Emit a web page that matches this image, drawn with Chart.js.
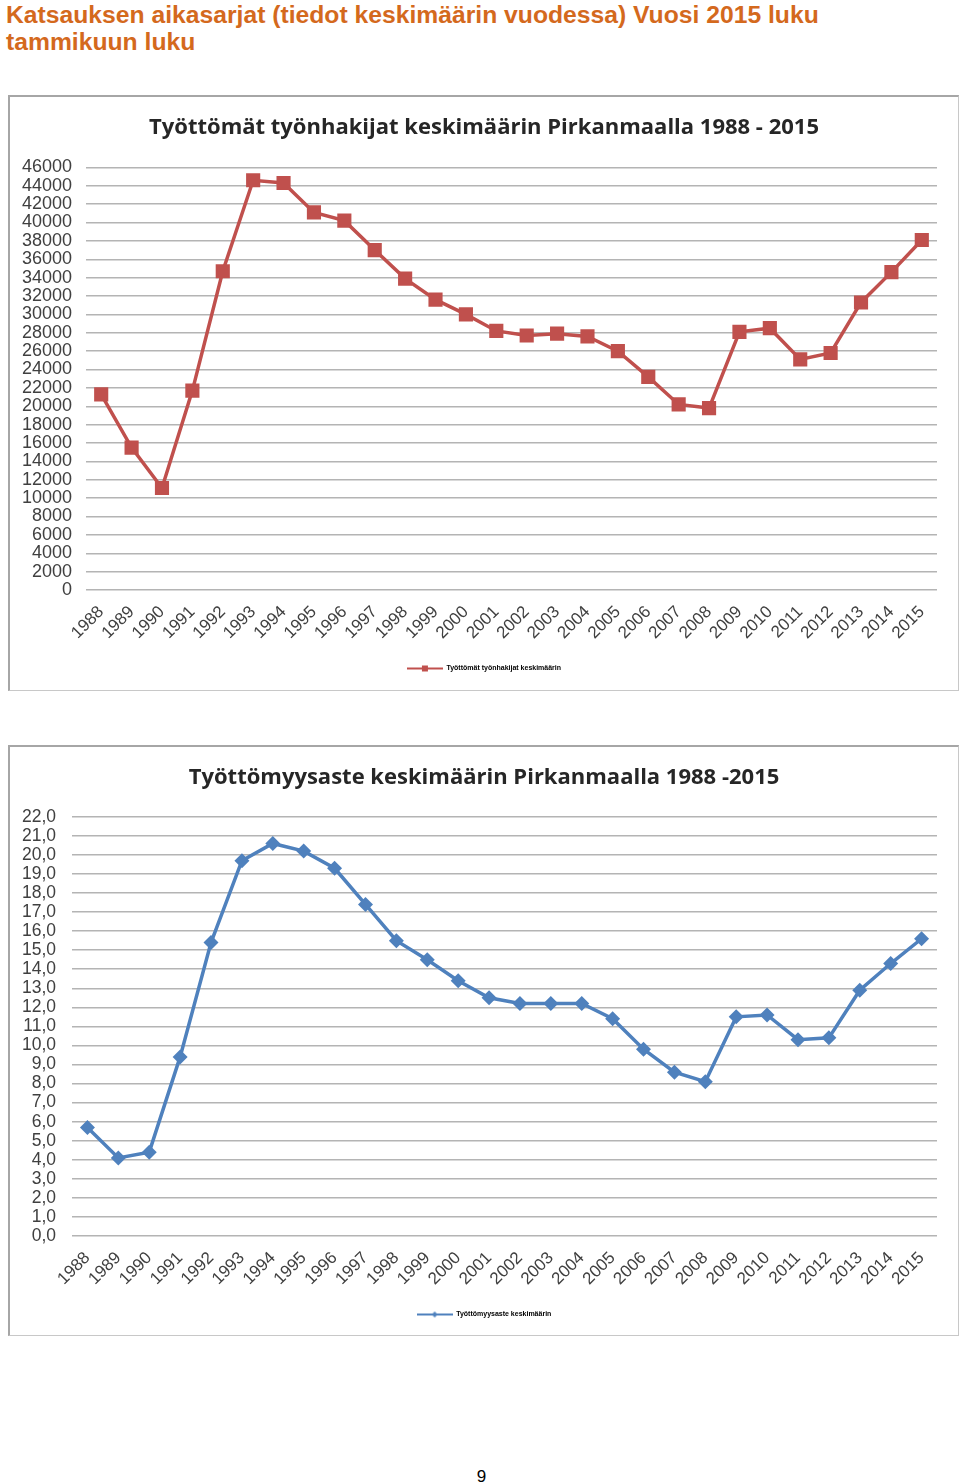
<!DOCTYPE html>
<html>
<head>
<meta charset="utf-8">
<script src="https://cdn.jsdelivr.net/npm/chart.js@4"></script>
<style>
  html, body { margin:0; padding:0; background:#fff; }
  body { width:960px; height:1483px; position:relative; overflow:hidden; font-family:"Liberation Sans", Arial, sans-serif; }
  .heading { position:absolute; left:6px; top:1px; width:940px; color:#D4691D; font-weight:bold; font-size:24.7px; line-height:27px; }
  .box { position:absolute; left:8px; width:948px; border-top:2px solid #a6a6a6; border-left:2px solid #a6a6a6; border-right:1px solid #c8c8c8; border-bottom:1px solid #c8c8c8; background:#fff; }
  .box canvas { display:block; }
  .pagenum { position:absolute; left:0; width:963px; top:1467px; text-align:center; font-size:17px; color:#000; }
</style>
</head>
<body>
<div class="heading">Katsauksen aikasarjat (tiedot keskimäärin vuodessa) Vuosi 2015 luku<br>tammikuun luku</div>
<div class="box" id="box1" style="top:95px;height:593px;"><canvas id="c1"></canvas></div>
<div class="box" id="box2" style="top:745px;height:588px;"><canvas id="c2"></canvas></div>
<div class="pagenum">9</div>
<script>
// ---- Data ----
const years = ["1988","1989","1990","1991","1992","1993","1994","1995","1996","1997","1998","1999","2000","2001","2002","2003","2004","2005","2006","2007","2008","2009","2010","2011","2012","2013","2014","2015"];
const unemployedJobSeekers = [21300,15500,11100,21700,34700,44600,44300,41100,40200,37000,33900,31600,30000,28200,27700,27900,27600,26000,23200,20200,19800,28100,28500,25100,25800,31300,34600,38100];
const unemploymentRate = [5.7,4.1,4.4,9.4,15.4,19.7,20.6,20.2,19.3,17.4,15.5,14.5,13.4,12.5,12.2,12.2,12.2,11.4,9.8,8.6,8.1,11.5,11.6,10.3,10.4,12.9,14.3,15.6];
const title1 = "Työttömät työnhakijat keskimäärin Pirkanmaalla 1988 - 2015";
const title2 = "Työttömyysaste keskimäärin Pirkanmaalla 1988 -2015";
const legend1 = "Työttömät työnhakijat keskimäärin";
const legend2 = "Työttömyysaste keskimäärin";

const RED = "#C0504D", BLUE = "#4F81BD";

function legendIcon(color, style) {
  const c = document.createElement('canvas');
  c.width = 36; c.height = 8;
  const g = c.getContext('2d');
  g.strokeStyle = color; g.lineWidth = 2;
  g.beginPath(); g.moveTo(0,4); g.lineTo(36,4); g.stroke();
  g.fillStyle = color;
  if (style === 'rect') { g.fillRect(15,1,6,6); }
  else { g.beginPath(); g.moveTo(18,1); g.lineTo(21,4); g.lineTo(18,7); g.lineTo(15,4); g.closePath(); g.fill(); }
  return c;
}

function makeChart(id, w, h, cfg) {
  const cv = document.getElementById(id);
  cv.width = w; cv.height = h; cv.style.width = w+'px'; cv.style.height = h+'px';
  return new Chart(cv, {
    type: 'line',
    data: { labels: years, datasets: [{
      label: cfg.legend, data: cfg.data,
      borderColor: cfg.color, backgroundColor: cfg.color, borderWidth: 3.5,
      pointStyle: cfg.pointStyle, pointRadius: cfg.pointRadius, pointHoverRadius: cfg.pointRadius,
      pointBackgroundColor: cfg.color, pointBorderColor: cfg.color, pointBorderWidth: 0,
      tension: 0, yAxisID: 'y'
    }]},
    options: {
      responsive: false, animation: false, devicePixelRatio: 1,
      layout: { padding: { left: 0, right: 0, top: 0, bottom: cfg.padBottom } },
      plugins: {
        tooltip: { enabled: false },
        title: { display: true, text: cfg.title, color: '#262626',
          font: { family: '"Open Sans", sans-serif', size: cfg.titleSize, weight: 'bold' },
          padding: { top: cfg.titleTop, bottom: cfg.titleBottom } },
        legend: { display: true, position: 'bottom',
          labels: { usePointStyle: true, pointStyleWidth: 36, color: '#404040', padding: 6,
            font: { family: '"Liberation Sans", Arial, sans-serif', size: 7, weight: 'bold' },
            generateLabels: () => [{ text: cfg.legend, pointStyle: legendIcon(cfg.color, cfg.pointStyle === 'rect' ? 'rect' : 'diamond'), fillStyle: cfg.color, strokeStyle: cfg.color, lineWidth: 0, hidden: false, datasetIndex: 0 }]
          } }
      },
      scales: {
        x: { offset: true,
          grid: { display: false, drawTicks: false },
          border: { display: false },
          ticks: { autoSkip: false, minRotation: 45, maxRotation: 45, color: '#404040', padding: 12,
            font: { family: '"Liberation Sans", Arial, sans-serif', size: 17 } },
          afterFit: s => { s.height = cfg.xHeight; }
        },
        y: { position: 'left', min: cfg.min, max: cfg.max,
          grid: { color: '#b4b4b4', lineWidth: 1.5, drawTicks: false },
          border: { display: false },
          ticks: { autoSkip: false, stepSize: cfg.step, color: '#404040', padding: cfg.yPad,
            font: { family: '"Liberation Sans", Arial, sans-serif', size: cfg.ySize },
            callback: cfg.fmt },
          afterFit: s => { s.width = cfg.yWidth; }
        },
        yRight: { position: 'right', display: true,
          grid: { display: false, drawTicks: false },
          border: { display: false },
          ticks: { display: false },
          afterFit: s => { s.width = 21; }
        }
      }
    }
  });
}

makeChart('c1', 948, 593, {
  data: unemployedJobSeekers, legend: legend1, title: title1, color: RED,
  pointStyle: 'rect', pointRadius: 10,
  min: 0, max: 46000, step: 2000, fmt: v => String(v),
  padBottom: 8, yWidth: 76, xHeight: 69, yPad: 14, ySize: 18,
  titleSize: 22, titleTop: 18, titleBottom: 26
});
makeChart('c2', 948, 588, {
  data: unemploymentRate, legend: legend2, title: title2, color: BLUE,
  pointStyle: 'rectRot', pointRadius: 7.5,
  min: 0, max: 22, step: 1, fmt: v => v.toFixed(1).replace('.', ','),
  padBottom: 7, yWidth: 62, xHeight: 69, yPad: 16, ySize: 17.5,
  titleSize: 22, titleTop: 18, titleBottom: 25.4
});
</script>
</body>
</html>
